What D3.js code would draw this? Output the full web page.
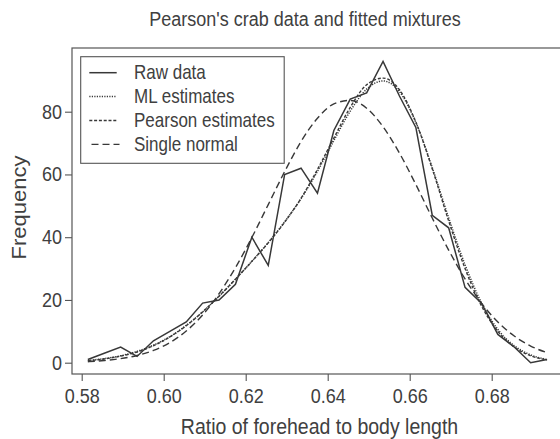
<!DOCTYPE html>
<html>
<head>
<meta charset="utf-8">
<script src="https://cdn.jsdelivr.net/npm/d3@7"></script>
<style>
  body { margin: 0; background: #fff; }
  text { font-family: "Liberation Sans", Arial, sans-serif; fill: #404040; }
</style>
</head>
<body>
<div id="chart"></div>
<script>
// ratio classes (bin centres) and counts
var ratio = [0.5815, 0.5855, 0.5895, 0.5935, 0.5975, 0.6015, 0.6055, 0.6095, 0.6135, 0.6175,
             0.6215, 0.6255, 0.6295, 0.6335, 0.6375, 0.6415, 0.6455, 0.6495, 0.6535, 0.6575,
             0.6615, 0.6655, 0.6695, 0.6735, 0.6775, 0.6815, 0.6855, 0.6895, 0.6935];
var rawData = [1, 3, 5, 2, 7, 10, 13, 19, 20, 25, 40, 31, 60, 62, 54, 74, 84, 86, 96, 85,
               75, 47, 43, 24, 19, 9, 5, 0, 1];
var mlFit = [0.7, 1.3, 2.2, 3.6, 5.6, 8.3, 11.9, 16.2, 21.2, 26.6, 32.3, 38.3, 44.9, 52.3, 61.0,
             70.8, 80.2, 87.2, 89.8, 86.4, 76.6, 62.2, 46.2, 31.2, 19.1, 10.6, 5.4, 2.5, 1.0];
var pearsonFit = [0.6, 1.2, 2.1, 3.4, 5.4, 8.2, 11.8, 16.2, 21.2, 26.6, 32.3, 38.2, 44.8, 52.4, 61.6,
                  71.6, 81.4, 88.6, 90.7, 87.0, 76.7, 61.8, 45.2, 30.0, 18.1, 10.0, 5.0, 2.2, 0.9];
var normalFit = [0.3, 0.7, 1.3, 2.3, 3.9, 6.4, 10.1, 15.2, 22.0, 30.3, 39.9, 50.4, 60.9, 70.5, 77.9,
                 82.5, 83.6, 81.1, 75.2, 66.8, 56.8, 46.1, 35.9, 26.7, 19.0, 13.0, 8.5, 5.3, 3.2];
var xTicks = [0.58, 0.60, 0.62, 0.64, 0.66, 0.68];
var yTicks = [0, 20, 40, 60, 80];
var seriesNames = ["Raw data", "ML estimates", "Pearson estimates", "Single normal"];

var width = 560, height = 439;
var box = { left: 72, right: 570, top: 48, bottom: 374 };
var ink = "#383838";
var stretch = "scale(1,1.14)";

var x = d3.scaleLinear().domain([0.58, 0.68]).range([81.7, 491.7]);
var y = d3.scaleLinear().domain([0, 80]).range([362.7, 111.7]);

var svg = d3.select("#chart").append("svg")
  .attr("width", width)
  .attr("height", height);

// frame
svg.append("rect")
  .attr("x", box.left).attr("y", box.top)
  .attr("width", box.right - box.left).attr("height", box.bottom - box.top)
  .attr("fill", "none").attr("stroke", "#555").attr("stroke-width", 1.2);

// axes
var xAxis = svg.append("g")
  .attr("transform", "translate(0," + box.bottom + ")")
  .call(d3.axisBottom(x).tickValues(xTicks).tickFormat(d3.format(".2f")).tickSize(7).tickPadding(4));
var yAxis = svg.append("g")
  .attr("transform", "translate(" + box.left + ",0)")
  .call(d3.axisLeft(y).tickValues(yTicks).tickSize(7).tickPadding(3));

[xAxis, yAxis].forEach(function(g) {
  g.select(".domain").remove();
  g.selectAll("line").attr("stroke", "#555").attr("stroke-width", 1.1);
  g.selectAll("text")
    .style("font-size", "18px")
    .attr("fill", "#404040");
});
xAxis.selectAll("text").attr("dy", null).attr("y", 0)
  .attr("transform", "translate(0,29) " + stretch);
yAxis.selectAll("text").attr("dy", null).attr("x", 0)
  .attr("transform", "translate(-10,6.5) " + stretch);

// lines
var styles = [
  { data: rawData, dash: null, curve: d3.curveLinear, width: 1.5 },
  { data: mlFit, dash: "1.2,1.3", curve: d3.curveMonotoneX, width: 1.5 },
  { data: pearsonFit, dash: "3,1.8", curve: d3.curveMonotoneX, width: 1.4 },
  { data: normalFit, dash: "7,4", curve: d3.curveMonotoneX, width: 1.4 }
];

styles.forEach(function(s) {
  var line = d3.line()
    .x(function(d, i) { return x(ratio[i]); })
    .y(function(d) { return y(d); })
    .curve(s.curve);
  svg.append("path")
    .datum(s.data)
    .attr("d", line)
    .attr("fill", "none")
    .attr("stroke", ink)
    .attr("stroke-width", s.width)
    .attr("stroke-dasharray", s.dash);
});

// legend
var legend = svg.append("g");
legend.append("rect")
  .attr("x", 80.7).attr("y", 56.7).attr("width", 203.5).attr("height", 106.6)
  .attr("fill", "#fff").attr("stroke", "#555").attr("stroke-width", 1.1);

seriesNames.forEach(function(name, i) {
  var ly = 72.7 + i * 23.9;
  legend.append("line")
    .attr("x1", i === 3 ? 91.5 : 89.3).attr("x2", i === 3 ? 119.5 : 116.7)
    .attr("y1", ly).attr("y2", ly)
    .attr("stroke", ink)
    .attr("stroke-width", styles[i].width)
    .attr("stroke-dasharray", styles[i].dash);
  legend.append("text")
    .attr("transform", "translate(134," + (ly + 6.3) + ") " + stretch)
    .style("font-size", "17px")
    .text(name);
});

// titles
svg.append("text")
  .attr("transform", "translate(305,26) " + stretch)
  .attr("text-anchor", "middle")
  .style("font-size", "18px")
  .text("Pearson's crab data and fitted mixtures");

svg.append("text")
  .attr("transform", "translate(319.5,433.5) " + stretch)
  .attr("text-anchor", "middle")
  .style("font-size", "19.5px")
  .text("Ratio of forehead to body length");

svg.append("text")
  .attr("transform", "translate(26,207.5) rotate(-90) scale(1.14,1)")
  .attr("text-anchor", "middle")
  .style("font-size", "19.3px")
  .text("Frequency");
</script>
</body>
</html>
